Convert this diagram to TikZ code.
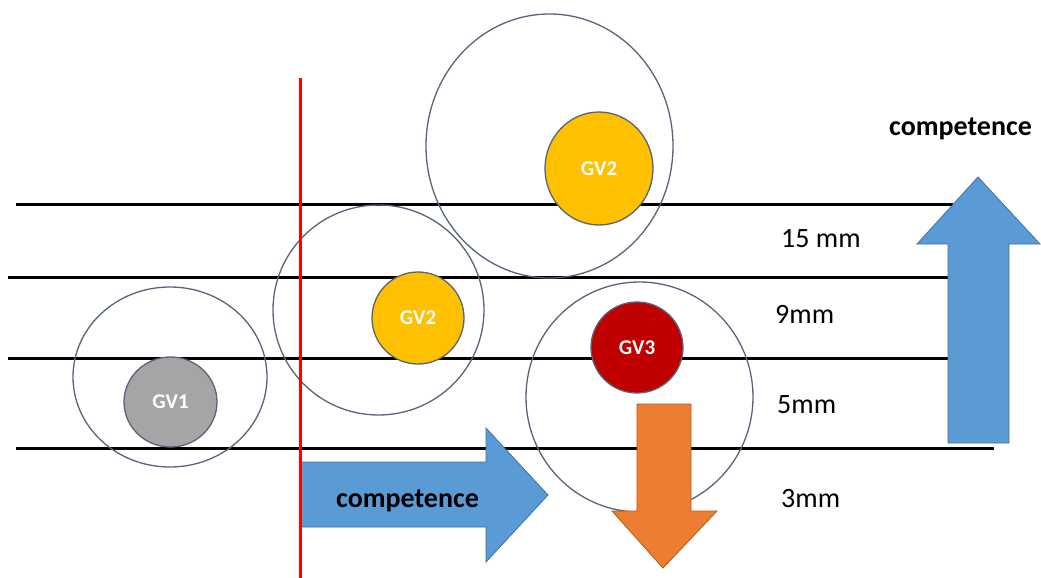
\documentclass[tikz,border=0pt]{standalone}
\usepackage{fontspec}
\setmainfont{Carlito}
\usetikzlibrary{shapes.geometric}
\definecolor{arrowblue}{HTML}{5B9BD5}
\definecolor{arrowblueline}{HTML}{41719C}
\definecolor{arroworange}{HTML}{ED7D31}
\definecolor{arroworangeline}{HTML}{AE5A21}
\definecolor{gvyellow}{HTML}{FFC000}
\definecolor{gvred}{HTML}{C00000}
\definecolor{gvgray}{HTML}{A5A5A5}
\definecolor{ringcol}{HTML}{56657A}
\tikzset{
  level/.style={line width=3pt, black},
  ring/.style={ellipse, draw=ringcol, line width=1.3pt, inner sep=0pt},
  gv/.style={ellipse, draw=ringcol, line width=1.3pt, inner sep=0pt, text=white,
    font=\fontsize{21}{21}\selectfont\bfseries},
  bluearrow/.style={fill=arrowblue, draw=arrowblueline, line width=0.8pt},
  orangearrow/.style={fill=arroworange, draw=arroworangeline, line width=0.8pt},
  mmlabel/.style={anchor=base west, inner sep=0pt, font=\fontsize{28}{28}\selectfont},
  complabel/.style={anchor=base west, inner sep=0pt, font=\fontsize{28}{28}\selectfont\bfseries},
}
\begin{document}
\begin{tikzpicture}[x=1pt, y=-1pt]
\useasboundingbox (0,0) rectangle (1041,578);
\fill[white] (0,0) rectangle (1041,578);

% level lines
\coordinate (l1a) at (16,204);  \coordinate (l1b) at (953,204);
\coordinate (l2a) at (8,277);   \coordinate (l2b) at (950,277);
\coordinate (l3a) at (8,358);   \coordinate (l3b) at (950,358);
\coordinate (l4a) at (16,448);  \coordinate (l4b) at (994,448);
\draw[level] (l1a) -- (l1b);
\draw[level] (l2a) -- (l2b);
\draw[level] (l3a) -- (l3b);
\draw[level] (l4a) -- (l4b);

% rings
\node[ring, minimum width=194pt, minimum height=180pt] (r1) at (170,377) {};
\node[ring, minimum width=211pt, minimum height=210pt] (r2) at (378.5,310) {};
\node[ring, minimum width=247pt, minimum height=264pt] (r3) at (549.5,146) {};
\node[ring, minimum width=227pt, minimum height=230pt] (r4) at (639.5,397) {};

% GV discs
\node[gv, fill=gvgray, minimum width=93pt, minimum height=90pt] (gv1) at (170.5,402) {GV1};
\node[gv, fill=gvyellow, minimum width=92pt, minimum height=92pt] (gv2a) at (418,318) {GV2};
\node[gv, fill=gvyellow, minimum width=108pt, minimum height=113pt] (gv2b) at (599,168.5) {GV2};
\node[gv, fill=gvred, minimum width=92pt, minimum height=91pt] (gv3) at (637,347.5) {GV3};

% horizontal competence arrow
\draw[bluearrow] (300,462) -- (486,462) -- (486,428) -- (548,495) -- (486,562) -- (486,527) -- (300,527) -- cycle;
\node[complabel] (hcomp) at (336,507) {competence};

% orange down arrow
\draw[orangearrow] (637,404) -- (691,404) -- (691,511) -- (717,511) -- (663,568) -- (612,511) -- (637,511) -- cycle;

% vertical competence arrow
\draw[bluearrow] (948,443) -- (948,244) -- (917,244) -- (978,177) -- (1040,244) -- (1009,244) -- (1009,443) -- cycle;
\node[complabel] (vcomp) at (889,135) {competence};

% red divider
\coordinate (redtop) at (300,78);
\coordinate (redbot) at (300,578);
\draw[red, line width=3pt] (redtop) -- (redbot);

% labels
\node[mmlabel] (m15) at (781,247) {15 mm};
\node[mmlabel] (m9) at (775,323) {9mm};
\node[mmlabel] (m5) at (777,413) {5mm};
\node[mmlabel] (m3) at (781,507) {3mm};
\end{tikzpicture}
\end{document}
